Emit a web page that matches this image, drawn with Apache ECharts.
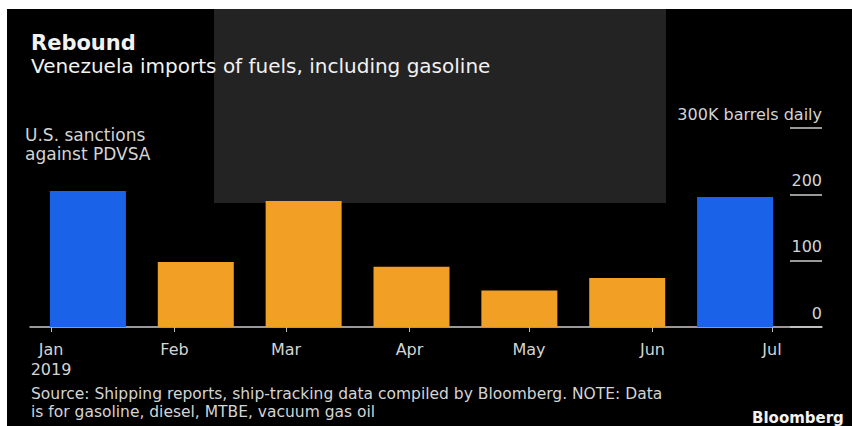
<!DOCTYPE html>
<html><head><meta charset="utf-8">
<script src="https://cdn.jsdelivr.net/npm/echarts@6/dist/echarts.min.js"></script>
<style>html,body{margin:0;padding:0;background:#fff;}#c{width:852px;height:426px;}</style>
</head><body><div id="c"></div>
<script>
// ---- data ----
const months = ['Jan', 'Feb', 'Mar', 'Apr', 'May', 'Jun', 'Jul'];
const imports = [205, 98, 190, 91, 55, 74, 196]; // thousand barrels daily
const highlightMonths = ['Jan', 'Jul'];
const monthStarts = ['2019-01-01', '2019-02-01', '2019-03-01', '2019-04-01', '2019-05-01', '2019-06-01', '2019-07-01'];
const monthTickLabels = ['Jan\n2019', 'Feb', 'Mar', 'Apr', 'May', 'Jun', 'Jul'];
const yTicks = [0, 100, 200, 300];
const yTopLabel = '300K barrels daily';

const FONT = 'DejaVu Sans';
const t0 = Date.parse(monthStarts[0]);
const tickDays = monthStarts.map(d => (Date.parse(d) - t0) / 864e5);
const yMax = yTicks[yTicks.length - 1];
const yStep = yTicks[1] - yTicks[0];

const chart = echarts.init(document.getElementById('c'), null, {renderer: 'svg'});
chart.setOption({
  backgroundColor: '#ffffff',
  animation: false,
  title: {
    text: 'Rebound',
    subtext: 'Venezuela imports of fuels, including gasoline',
    left: 31, top: 32, padding: 0, itemGap: 3,
    textStyle: {fontFamily: FONT, fontSize: 21, fontWeight: 'bold', color: '#f2f2f2'},
    subtextStyle: {fontFamily: FONT, fontSize: 20, color: '#f2f2f2'}
  },
  graphic: [
    {type: 'rect', z: -10, shape: {x: 7, y: 9, width: 845, height: 417}, style: {fill: '#000000'}},
    {type: 'rect', z: -9, shape: {x: 214, y: 9, width: 452, height: 194}, style: {fill: '#232323'}},
    {type: 'text', left: 25, top: 126, style: {text: 'U.S. sanctions', fill: '#d4d4d4', font: '17px ' + FONT}},
    {type: 'text', left: 25, top: 145, style: {text: 'against PDVSA', fill: '#d4d4d4', font: '17px ' + FONT}},
    {type: 'text', left: 31, top: 386, style: {text: 'Source: Shipping reports, ship-tracking data compiled by Bloomberg. NOTE: Data', fill: '#d4d4d4', font: '15.5px ' + FONT}},
    {type: 'text', left: 31, top: 404, style: {text: 'is for gasoline, diesel, MTBE, vacuum gas oil', fill: '#d4d4d4', font: '15.5px ' + FONT}},
    {type: 'text', left: 752, top: 410, style: {text: 'Bloomberg', fill: '#f2f2f2', font: 'bold 15px ' + FONT}}
  ],
  grid: [
    {left: 34, top: 128, width: 755, height: 199},
    {left: 51, top: 128, width: 721, height: 199},
    {left: 30, top: 128, width: 792, height: 199},
    {left: 790, top: 128, width: 32, height: 199}
  ],
  xAxis: [
    {type: 'category', gridIndex: 0, data: months, show: false, boundaryGap: true},
    {type: 'value', gridIndex: 1, min: tickDays[0], max: tickDays[tickDays.length - 1],
     axisLine: {show: false}, splitLine: {show: false},
     axisTick: {show: true, customValues: tickDays, length: 5, lineStyle: {color: '#bbbbbb', width: 1}},
     axisLabel: {show: true, customValues: tickDays, margin: 12, fontFamily: FONT, fontSize: 16, lineHeight: 20, color: '#d4d4d4',
       formatter: v => monthTickLabels[tickDays.indexOf(v)] || ''}},
    {type: 'value', gridIndex: 2, min: 0, max: 1, axisLine: {show: true, lineStyle: {color: '#cccccc', width: 1.5}},
     axisTick: {show: false}, axisLabel: {show: false}, splitLine: {show: false}},
    {type: 'value', gridIndex: 3, min: 0, max: 1, show: false, splitLine: {show: false}}
  ],
  yAxis: [
    {type: 'value', gridIndex: 0, min: 0, max: yMax, show: false, splitLine: {show: false}},
    {type: 'value', gridIndex: 1, min: 0, max: yMax, show: false, splitLine: {show: false}},
    {type: 'value', gridIndex: 2, min: 0, max: yMax, interval: yStep, position: 'right',
     axisLine: {show: false}, splitLine: {show: false}, axisTick: {show: false},
     axisLabel: {show: true, inside: true, margin: 0, verticalAlign: 'bottom', padding: [0, 0, 6, 0],
       fontFamily: FONT, fontSize: 16, color: '#d4d4d4',
       formatter: v => v === yMax ? yTopLabel : String(v)}},
    {type: 'value', gridIndex: 3, min: 0, max: yMax, interval: yStep,
     axisLine: {show: false}, axisTick: {show: false}, axisLabel: {show: false},
     splitLine: {show: true, lineStyle: {color: '#cccccc', width: 1.5}}}
  ],
  series: [
    {type: 'bar', xAxisIndex: 0, yAxisIndex: 0, data: imports, barWidth: 76,
     itemStyle: {color: p => highlightMonths.includes(p.name) ? '#1a62e8' : '#f29f26'}},
    {type: 'scatter', xAxisIndex: 1, yAxisIndex: 1, data: []},
    {type: 'scatter', xAxisIndex: 2, yAxisIndex: 2, data: []},
    {type: 'scatter', xAxisIndex: 3, yAxisIndex: 3, data: []}
  ]
});
</script></body></html>
